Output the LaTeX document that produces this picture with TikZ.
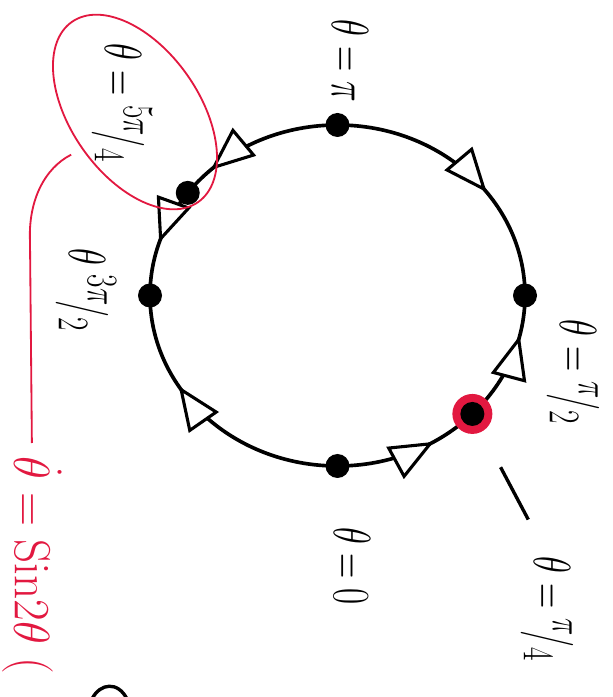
\documentclass[tikz,border=0pt]{standalone}
\usepackage{amsmath}
\usepackage{tikz}
\usetikzlibrary{arrows.meta, positioning, calc, shapes.geometric, decorations.markings}

\definecolor{penred}{RGB}{226,24,64}
\newcommand{\skewfrac}[2]{{}^{#1}\!/{}_{#2}}
\newcommand{\tall}[1]{\scalebox{1}[1.5]{#1}}

\begin{document}
\begin{tikzpicture}[
        % 定义样式
        x=0.25mm, y=0.25mm,
        flow/.tip={Triangle[length=11mm, width=9mm, fill=white, line width=2.2pt]}, % 流向箭头
        lbl/.style={font=\Huge, rotate=-90, inner sep=1pt},
        fixpt/.style={circle, fill=black, inner sep=0pt, minimum size=6mm},
        startpt/.style={circle, fill=penred, inner sep=0pt, minimum size=10mm},
        orbit/.style={line width=2.6pt, line join=round},
        redline/.style={draw=penred, line width=1.3pt}
    ]

    \useasboundingbox (0,0) rectangle (613,697);

    % 1. 相圆及流向
    \coordinate (C) at (337.5,401.5);
    \draw[orbit, postaction={decorate}, decoration={markings,
            mark=at position 0.100 with {\arrowreversed{flow}},
            mark=at position 0.372 with {\arrow{flow}},
            mark=at position 0.452 with {\arrow{flow}},
            mark=at position 0.586 with {\arrowreversed{flow}},
            mark=at position 0.839 with {\arrow{flow}},
            mark=at position 0.964 with {\arrow{flow}}}]
        (C) ellipse [x radius=187.5, y radius=170.5];

    % 2. 不动点
    \node (pi2) [fixpt] at ($(C)+(0:187.5 and 170.5)$) {};
    \node (pi) [fixpt] at ($(C)+(90:187.5 and 170.5)$) {};
    \node (fivepi4) [fixpt] at ($(C)+(143:187.5 and 170.5)$) {};
    \node (threepi2) [fixpt] at ($(C)+(180:187.5 and 170.5)$) {};
    \node (zero) [fixpt] at ($(C)+(270:187.5 and 170.5)$) {};
    \node (pi4ring) [startpt] at ($(C)+(-44:187.5 and 170.5)$) {};
    \node (pi4) [fixpt] at (pi4ring) {};

    % 3. 标签
    \node (lblpi) [lbl] at (350,636) {\tall{$\theta=\pi$}};
    \node (lbl5pi4) [lbl] at (122,594) {\tall{$\theta=\skewfrac{5\pi}{4}$}};
    \node (lbl3pi2) [lbl] at (86,407) {\tall{$\theta\;\skewfrac{3\pi}{2}$}};
    \node (lblpi2) [lbl] at (573,325) {\tall{$\theta=\skewfrac{\pi}{2}$}};
    \node (lblpi4) [lbl] at (547,88) {\tall{$\theta=\skewfrac{\pi}{4}$}};
    \node (lbl0) [lbl] at (352,131) {\tall{$\theta=0$}};
    \draw[orbit, line width=2.4pt, shorten <=12mm, shorten >=10mm] (pi4) -- (lblpi4.west);

    % 4. 红色圈注与方程
    \node (ring) [draw=penred, line width=1.3pt, ellipse, rotate=-55,
        minimum width=55mm, minimum height=32mm, inner sep=0pt] at (135,585) {};
    \node (eqn) [lbl, text=penred, anchor=west] at (32,242)
        {\scalebox{1.35}[1.45]{$\dot{\theta}=\mathrm{Sin}2\theta\;($}};
    \coordinate (kink) at (30,455);
    \draw[redline, shorten <=3mm] (ring.south) .. controls (45,529) and (28,497) .. (kink);
    \draw[redline, shorten >=3mm] (kink) -- (eqn.west);
    % 下边缘被截断的笔画
    \draw[line width=2.4pt, line cap=round] (92,-2) .. controls (100,14) and (118,16) .. (127,-2);

\end{tikzpicture}
\end{document}
